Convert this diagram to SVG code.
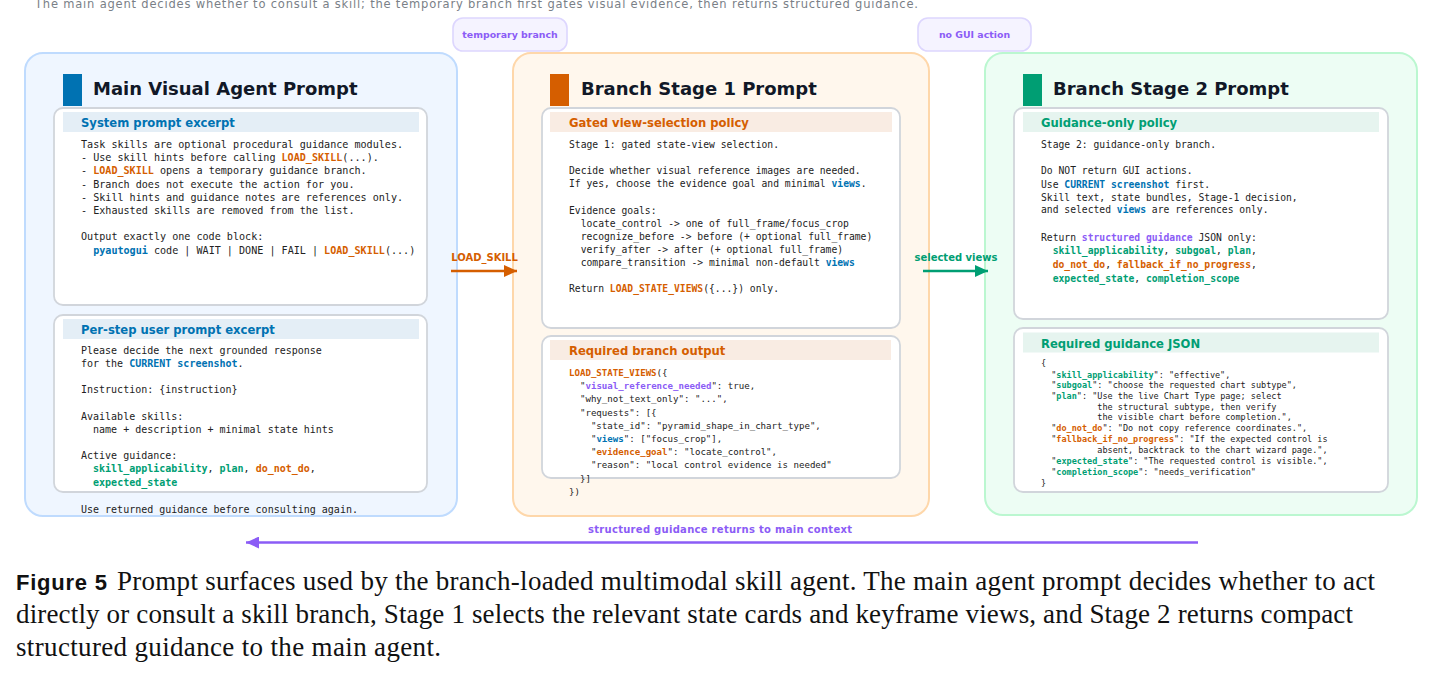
<svg xmlns="http://www.w3.org/2000/svg" width="1431" height="677" viewBox="0 0 1431 677">
<defs>
<style>
.sub{font-family:"DejaVu Sans",sans-serif;font-size:11.5px;fill:#7a7f87}
.pill{fill:#f5f3ff;stroke:#ddd6fe;stroke-width:1.6}
.pilltx{font-family:"DejaVu Sans",sans-serif;font-size:9.4px;font-weight:bold;fill:#8b5cf6;text-anchor:middle}
.pb{fill:#eff6ff;stroke:#bfdbfe;stroke-width:2}
.po{fill:#fff7ed;stroke:#fed7aa;stroke-width:2}
.pg{fill:#edfdf4;stroke:#bbf7d0;stroke-width:2}
.card{fill:#ffffff;stroke:#d1d5db;stroke-width:1.8}
.bandb{fill:#e4eef6}
.bando{fill:#f9ece3}
.bandg{fill:#e6f4ef}
.title{font-family:"DejaVu Sans",sans-serif;font-size:18px;font-weight:bold;fill:#111827}
.hdr{font-family:"DejaVu Sans",sans-serif;font-size:11.6px;font-weight:bold}
.hb{fill:#0072B2}
.ho{fill:#D55E00}
.hg{fill:#009E73}
.mono{font-family:"DejaVu Sans Mono",monospace;fill:#222;white-space:pre}
.m101{font-size:10.1px}
.m10{font-size:10px}
.m97{font-size:9.7px}
.m91{font-size:9.1px}
.m85{font-size:8.5px}
.kb{font-weight:bold;fill:#0072B2}
.ko{font-weight:bold;fill:#D55E00}
.kg{font-weight:bold;fill:#009E73}
.kp{font-weight:bold;fill:#8b5cf6}
.alab{font-family:"DejaVu Sans",sans-serif;font-size:10px;font-weight:bold;text-anchor:middle}
.cap{font-family:"Liberation Serif",serif;font-size:27px;fill:#111}
.capb{font-family:"Liberation Sans",sans-serif;font-size:22px;font-weight:bold;fill:#111}
</style>
<marker id="ahO" markerUnits="userSpaceOnUse" markerWidth="13" markerHeight="12" refX="13" refY="6" orient="auto"><path d="M0,0 L13,6 L0,12 z" fill="#D55E00"/></marker>
<marker id="ahG" markerUnits="userSpaceOnUse" markerWidth="13" markerHeight="12" refX="13" refY="6" orient="auto"><path d="M0,0 L13,6 L0,12 z" fill="#009E73"/></marker>
<marker id="ahP" markerUnits="userSpaceOnUse" markerWidth="13" markerHeight="12" refX="13" refY="6" orient="auto"><path d="M0,0 L13,6 L0,12 z" fill="#8b5cf6"/></marker>
</defs>
<rect width="1431" height="677" fill="#ffffff"/>

<text class="sub" x="35" y="8" textLength="883">The main agent decides whether to consult a skill; the temporary branch first gates visual evidence, then returns structured guidance.</text>

<g id="pill-temporary-branch">
<rect class="pill" x="453" y="18" width="114" height="33" rx="10"/>
<text class="pilltx" x="510" y="37.5">temporary branch</text>
</g>
<g id="pill-no-gui">
<rect class="pill" x="918" y="18" width="113" height="33" rx="10"/>
<text class="pilltx" x="974.5" y="37.5">no GUI action</text>
</g>

<g id="main-agent" xml:space="preserve">
<rect class="pb" x="25" y="53" width="432" height="463" rx="18"/>
<rect x="63" y="74" width="19" height="32" fill="#0072B2"/>
<text class="title" x="93" y="95">Main Visual Agent Prompt</text>
<g id="main-system-card">
<rect class="card" x="54" y="108" width="373" height="197" rx="9"/>
<rect class="bandb" x="63" y="112" width="356" height="20"/>
<text class="hdr hb" x="81" y="127">System prompt excerpt</text>
<text class="mono m101" x="81" y="148">Task skills are optional procedural guidance modules.</text>
<text class="mono m101" x="81" y="161.2">- Use skill hints before calling <tspan class="ko">LOAD_SKILL</tspan>(...).</text>
<text class="mono m101" x="81" y="174.4">- <tspan class="ko">LOAD_SKILL</tspan> opens a temporary guidance branch.</text>
<text class="mono m101" x="81" y="187.6">- Branch does not execute the action for you.</text>
<text class="mono m101" x="81" y="200.8">- Skill hints and guidance notes are references only.</text>
<text class="mono m101" x="81" y="214">- Exhausted skills are removed from the list.</text>
<text class="mono m101" x="81" y="240.4">Output exactly one code block:</text>
<text class="mono m101" x="81" y="253.6">  <tspan class="kb">pyautogui</tspan> code | WAIT | DONE | FAIL | <tspan class="ko">LOAD_SKILL</tspan>(...)</text>
</g>
<g id="main-user-card">
<rect class="card" x="54" y="315" width="373" height="177" rx="9"/>
<rect class="bandb" x="63" y="319" width="356" height="20"/>
<text class="hdr hb" x="81" y="334">Per-step user prompt excerpt</text>
<text class="mono m10" x="81" y="354">Please decide the next grounded response</text>
<text class="mono m10" x="81" y="367.1">for the <tspan class="kb">CURRENT screenshot</tspan>.</text>
<text class="mono m10" x="81" y="393.3">Instruction: {instruction}</text>
<text class="mono m10" x="81" y="419.5">Available skills:</text>
<text class="mono m10" x="81" y="432.6">  name + description + minimal state hints</text>
<text class="mono m10" x="81" y="458.8">Active guidance:</text>
<text class="mono m10" x="81" y="472.4">  <tspan class="kg">skill_applicability</tspan>, <tspan class="kg">plan</tspan>, <tspan class="ko">do_not_do</tspan>,</text>
<text class="mono m10" x="81" y="485.8">  <tspan class="kg">expected_state</tspan></text>
<text class="mono m10" x="81" y="512.5">Use returned guidance before consulting again.</text>
</g>
</g>

<g id="branch-stage-1" xml:space="preserve">
<rect class="po" x="513" y="53" width="416" height="463" rx="18"/>
<rect x="550" y="74" width="19" height="32" fill="#D55E00"/>
<text class="title" x="581" y="95">Branch Stage 1 Prompt</text>
<g id="stage1-policy-card">
<rect class="card" x="542" y="108" width="358" height="220" rx="9"/>
<rect class="bando" x="550" y="112" width="342" height="20"/>
<text class="hdr ho" x="569" y="127">Gated view-selection policy</text>
<text class="mono m97" x="569" y="148">Stage 1: gated state-view selection.</text>
<text class="mono m97" x="569" y="174.2">Decide whether visual reference images are needed.</text>
<text class="mono m97" x="569" y="187.3">If yes, choose the evidence goal and minimal <tspan class="kb">views</tspan>.</text>
<text class="mono m97" x="569" y="213.5">Evidence goals:</text>
<text class="mono m97" x="569" y="226.6">  locate_control -&gt; one of full_frame/focus_crop</text>
<text class="mono m97" x="569" y="239.7">  recognize_before -&gt; before (+ optional full_frame)</text>
<text class="mono m97" x="569" y="253">  verify_after -&gt; after (+ optional full_frame)</text>
<text class="mono m97" x="569" y="266.2">  compare_transition -&gt; minimal non-default <tspan class="kb">views</tspan></text>
<text class="mono m97" x="569" y="292.3">Return <tspan class="ko">LOAD_STATE_VIEWS</tspan>({...}) only.</text>
</g>
<g id="stage1-output-card">
<rect class="card" x="542" y="336" width="358" height="142" rx="9"/>
<rect class="bando" x="550" y="340" width="341" height="20"/>
<text class="hdr ho" x="569" y="355">Required branch output</text>
<text class="mono m91" x="569" y="376"><tspan class="ko">LOAD_STATE_VIEWS</tspan>({</text>
<text class="mono m91" x="569" y="389.2">  "<tspan class="kp">visual_reference_needed</tspan>": true,</text>
<text class="mono m91" x="569" y="402.4">  "why_not_text_only": "...",</text>
<text class="mono m91" x="569" y="415.6">  "requests": [{</text>
<text class="mono m91" x="569" y="428.8">    "state_id": "pyramid_shape_in_chart_type",</text>
<text class="mono m91" x="569" y="442">    "<tspan class="kb">views</tspan>": ["focus_crop"],</text>
<text class="mono m91" x="569" y="455.2">    "<tspan class="ko">evidence_goal</tspan>": "locate_control",</text>
<text class="mono m91" x="569" y="468.4">    "reason": "local control evidence is needed"</text>
<text class="mono m91" x="569" y="481.6">  }]</text>
<text class="mono m91" x="569" y="494.8">})</text>
</g>
</g>

<g id="branch-stage-2" xml:space="preserve">
<rect class="pg" x="985" y="53" width="432" height="462" rx="18"/>
<rect x="1023" y="74" width="19" height="32" fill="#009E73"/>
<text class="title" x="1053" y="95">Branch Stage 2 Prompt</text>
<g id="stage2-policy-card">
<rect class="card" x="1014" y="108" width="374" height="211" rx="9"/>
<rect class="bandg" x="1023" y="112" width="356" height="20"/>
<text class="hdr hg" x="1041" y="127">Guidance-only policy</text>
<text class="mono m97" x="1041" y="148">Stage 2: guidance-only branch.</text>
<text class="mono m97" x="1041" y="174.2">Do NOT return GUI actions.</text>
<text class="mono m97" x="1041" y="187.6">Use <tspan class="kb">CURRENT screenshot</tspan> first.</text>
<text class="mono m97" x="1041" y="200.6">Skill text, state bundles, Stage-1 decision,</text>
<text class="mono m97" x="1041" y="213.4">and selected <tspan class="kb">views</tspan> are references only.</text>
<text class="mono m97" x="1041" y="240.5">Return <tspan class="kp">structured guidance</tspan> JSON only:</text>
<text class="mono m97" x="1041" y="254">  <tspan class="kg">skill_applicability</tspan>, <tspan class="kg">subgoal</tspan>, <tspan class="kg">plan</tspan>,</text>
<text class="mono m97" x="1041" y="267.7">  <tspan class="ko">do_not_do</tspan>, <tspan class="ko">fallback_if_no_progress</tspan>,</text>
<text class="mono m97" x="1041" y="281.5">  <tspan class="kg">expected_state</tspan>, <tspan class="kg">completion_scope</tspan></text>
</g>
<g id="stage2-json-card">
<rect class="card" x="1014" y="328" width="374" height="164" rx="9"/>
<rect class="bandg" x="1023" y="332.5" width="356" height="20"/>
<text class="hdr hg" x="1041" y="347.5">Required guidance JSON</text>
<text class="mono m85" x="1041" y="366.3">{</text>
<text class="mono m85" x="1041" y="378">  "<tspan class="kg">skill_applicability</tspan>": "effective",</text>
<text class="mono m85" x="1041" y="388.3">  "<tspan class="kg">subgoal</tspan>": "choose the requested chart subtype",</text>
<text class="mono m85" x="1041" y="399.2">  "<tspan class="kg">plan</tspan>": "Use the live Chart Type page; select</text>
<text class="mono m85" x="1041" y="410">           the structural subtype, then verify</text>
<text class="mono m85" x="1041" y="420.3">           the visible chart before completion.",</text>
<text class="mono m85" x="1041" y="431.2">  "<tspan class="ko">do_not_do</tspan>": "Do not copy reference coordinates.",</text>
<text class="mono m85" x="1041" y="442.2">  "<tspan class="ko">fallback_if_no_progress</tspan>": "If the expected control is</text>
<text class="mono m85" x="1041" y="452.8">           absent, backtrack to the chart wizard page.",</text>
<text class="mono m85" x="1041" y="463.8">  "<tspan class="kg">expected_state</tspan>": "The requested control is visible.",</text>
<text class="mono m85" x="1041" y="475">  "<tspan class="kg">completion_scope</tspan>": "needs_verification"</text>
<text class="mono m85" x="1041" y="486.3">}</text>
</g>
</g>

<g id="connectors">
<g id="edge-load-skill">
<line x1="451" y1="271" x2="517" y2="271" stroke="#D55E00" stroke-width="2.3" marker-end="url(#ahO)"/>
<text class="alab ho" x="484.5" y="260.5">LOAD_SKILL</text>
</g>
<g id="edge-selected-views">
<line x1="923" y1="271" x2="988" y2="271" stroke="#009E73" stroke-width="2.3" marker-end="url(#ahG)"/>
<text class="alab hg" x="956" y="260.5">selected views</text>
</g>
<g id="edge-return">
<line x1="1198" y1="542.5" x2="246" y2="542.5" stroke="#8b5cf6" stroke-width="2.4" marker-end="url(#ahP)"/>
<text class="alab" fill="#8b5cf6" x="720" y="533" font-size="10.4" textLength="264">structured guidance returns to main context</text>
</g>
</g>

<g id="caption">
<text class="capb" x="16" y="590" textLength="91">Figure 5</text>
<text class="cap" x="117" y="590" textLength="1258">Prompt surfaces used by the branch-loaded multimodal skill agent. The main agent prompt decides whether to act</text>
<text class="cap" x="16" y="623" textLength="1337">directly or consult a skill branch, Stage 1 selects the relevant state cards and keyframe views, and Stage 2 returns compact</text>
<text class="cap" x="16" y="656" textLength="425">structured guidance to the main agent.</text>
</g>
</svg>
